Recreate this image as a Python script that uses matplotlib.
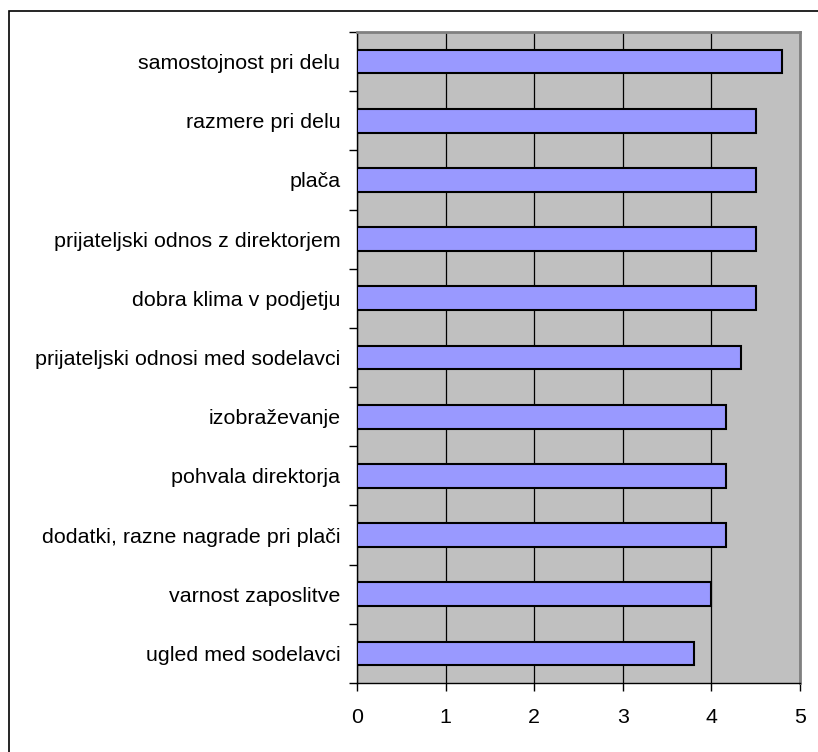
import matplotlib.pyplot as plt
import matplotlib.ticker as mticker
from matplotlib.patches import Rectangle

plt.rcParams['font.family'] = ['Liberation Sans', 'DejaVu Sans']

# povprečne ocene motivacijskih dejavnikov (od zgoraj navzdol)
kategorije = ['samostojnost pri delu', 'razmere pri delu', 'plača',
              'prijateljski odnos z direktorjem', 'dobra klima v podjetju',
              'prijateljski odnosi med sodelavci', 'izobraževanje',
              'pohvala direktorja', 'dodatki, razne nagrade pri plači',
              'varnost zaposlitve', 'ugled med sodelavci']
ocene = [4.8, 4.5, 4.5, 4.5, 4.5, 4.33, 4.17, 4.17, 4.17, 4.0, 3.8]
x_oznake = [0, 1, 2, 3, 4, 5]

fig = plt.figure(figsize=(8.18, 7.52), dpi=100)
ax = fig.add_axes([357/818, 1 - 683/752, 443/818, 651/752])

# okvir grafa
okvir = Rectangle((9/818, -0.2), 1.2, 1.2 - 11/752, transform=fig.transFigure,
                  fill=False, edgecolor='black', linewidth=1.2, clip_on=False)
fig.patches.append(okvir)

ax.set_facecolor('#C0C0C0')
pos = list(range(len(kategorije)))
ax.barh(pos, ocene, height=0.4, color='#9999FF', edgecolor='black', linewidth=1.5, zorder=3)

ax.set_xlim(0, 5)
ax.set_ylim(len(kategorije) - 0.5, -0.5)
ax.set_xticks(x_oznake)
ax.set_xticklabels([str(v) for v in x_oznake], fontsize=15.4)
ax.xaxis.grid(True, color='black', linewidth=0.9, zorder=1)
ax.set_axisbelow(True)

# oznake kategorij med kljukicami
ax.set_yticks(pos)
ax.set_yticklabels(kategorije, fontsize=15.4)
ax.tick_params(axis='y', which='major', length=0, pad=12)
ax.yaxis.set_minor_locator(mticker.FixedLocator([p - 0.5 for p in range(len(kategorije) + 1)]))
ax.tick_params(axis='y', which='minor', length=6, width=1, color='black', direction='out')
ax.tick_params(axis='x', length=6, width=1, color='black', direction='out', pad=12)

for s in ['top', 'right']:
    ax.spines[s].set_color('#808080')
    ax.spines[s].set_linewidth(2)
for s in ['left', 'bottom']:
    ax.spines[s].set_color('black')
    ax.spines[s].set_linewidth(1)

fig.savefig('out.png', dpi=100)
